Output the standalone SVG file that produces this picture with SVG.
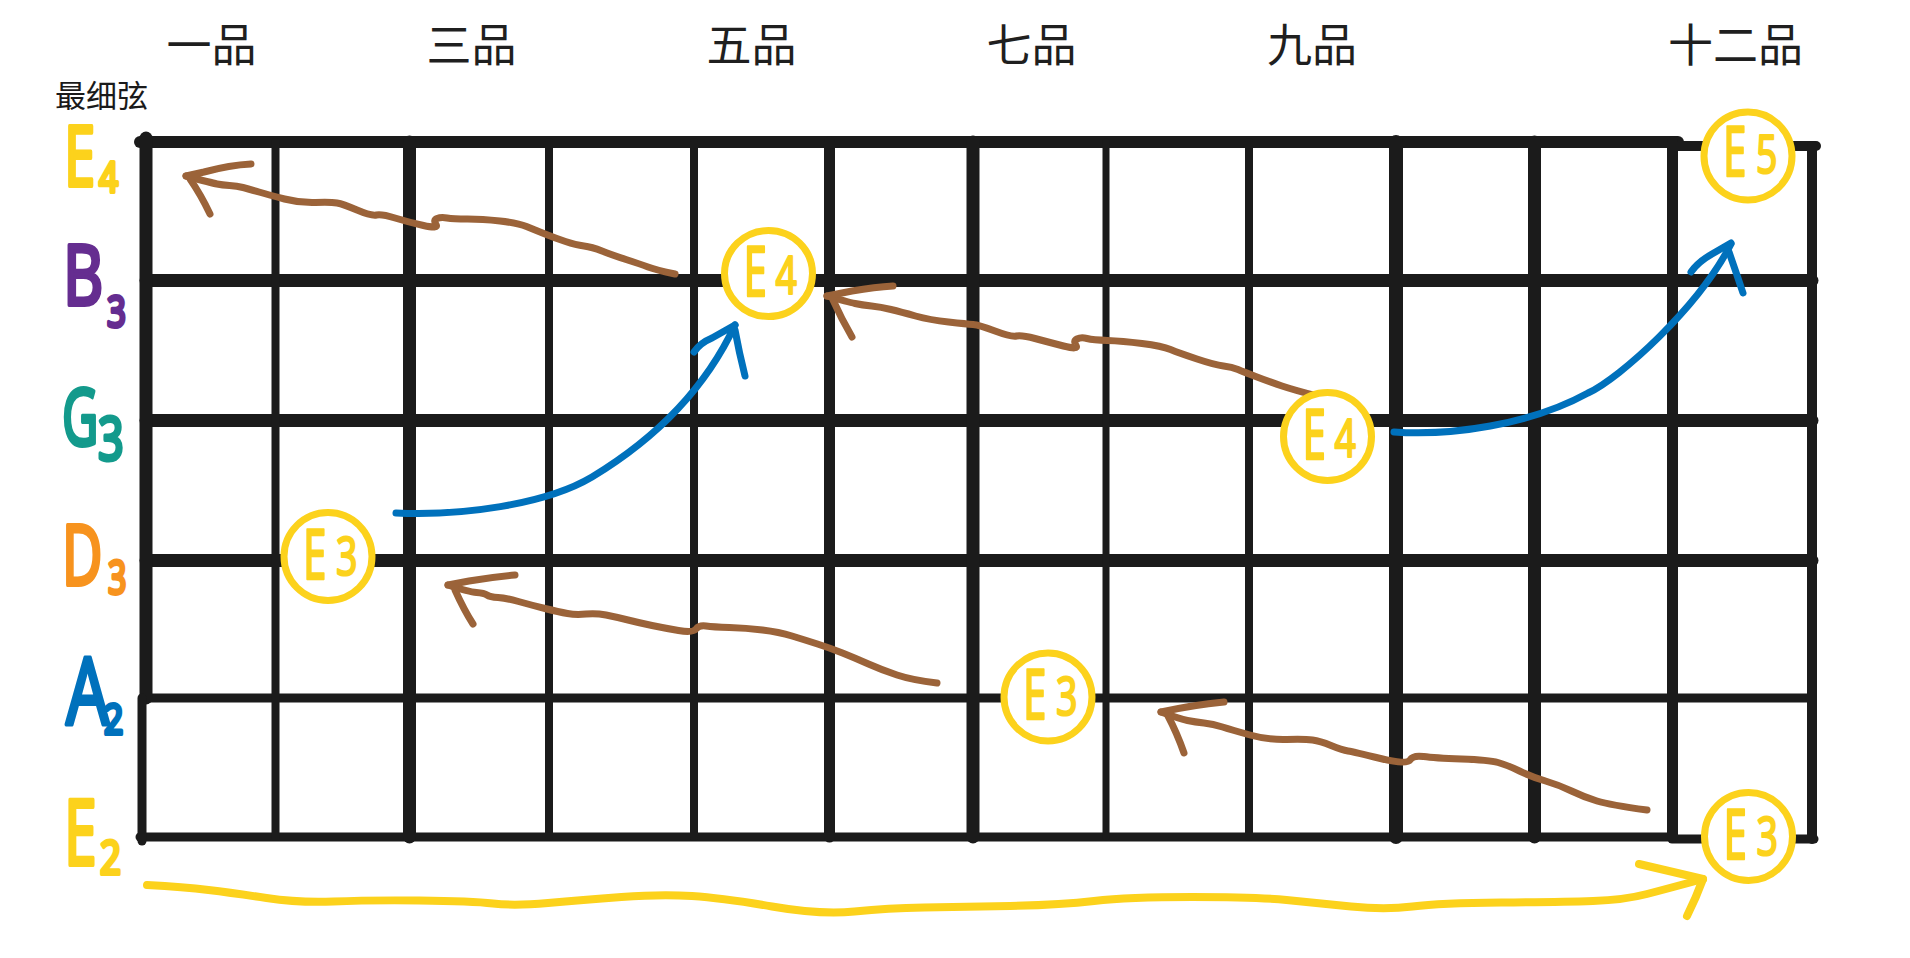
<svg xmlns="http://www.w3.org/2000/svg" width="1910" height="958" viewBox="0 0 1910 958">
<style>
.bg{fill:#ffffff}
.gl{stroke:#1b1b1b;stroke-linecap:round;fill:none}
.fret{font-family:"Noto Sans CJK SC","Noto Sans",sans-serif;font-size:45px;fill:#1f1f1f;text-anchor:middle}
.note{font-family:"Noto Sans CJK SC","Noto Sans",sans-serif;font-size:31px;fill:#1a1a1a}
.lab{font-family:"Noto Sans","Liberation Sans",sans-serif;stroke-width:4;stroke-linejoin:round}
.ring{fill:#ffffff;stroke:#fcd21c;stroke-width:7}
.ce{font-family:"Noto Sans","Liberation Sans",sans-serif;font-size:70px;fill:#fcd21c;stroke:#fcd21c;stroke-width:2.4;stroke-linejoin:round}
.cd{font-family:"Noto Sans","Liberation Sans",sans-serif;font-size:52px;fill:#fcd21c;stroke:#fcd21c;stroke-width:2.2;stroke-linejoin:round}
.brown{stroke:#9b6339;stroke-width:7;fill:none;stroke-linecap:round;stroke-linejoin:round}
.blue{stroke:#0071bc;stroke-width:7;fill:none;stroke-linecap:round;stroke-linejoin:round}
.yel{stroke:#fcd21c;stroke-width:8;fill:none;stroke-linecap:round;stroke-linejoin:round}
</style>
<rect class="bg" x="0" y="0" width="1910" height="958"/>

<g id="fret-labels">
<text class="fret" x="211.5" y="62">一品</text>
<text class="fret" x="471.5" y="62">三品</text>
<text class="fret" x="751.5" y="62">五品</text>
<text class="fret" x="1031.5" y="62">七品</text>
<text class="fret" x="1312" y="62">九品</text>
<text class="fret" x="1735.5" y="62">十二品</text>
</g>
<g id="thinnest-label"><text class="note" x="55" y="107">最细弦</text></g>

<g id="grid">
<line class="gl" x1="140" y1="142" x2="1678" y2="142" stroke-width="12"/>
<line class="gl" x1="1672" y1="146" x2="1816" y2="146" stroke-width="10"/>
<line class="gl" x1="146" y1="280.5" x2="1812" y2="280.5" stroke-width="13"/>
<line class="gl" x1="146" y1="420.5" x2="1812" y2="420.5" stroke-width="13"/>
<line class="gl" x1="146" y1="560.5" x2="1812" y2="560.5" stroke-width="13"/>
<line class="gl" x1="146" y1="698" x2="1812" y2="698" stroke-width="9"/>
<line class="gl" x1="140" y1="837" x2="1672" y2="837" stroke-width="9"/>
<line class="gl" x1="1672" y1="839" x2="1814" y2="839" stroke-width="9"/>
<line class="gl" x1="146" y1="138" x2="146" y2="698" stroke-width="13"/>
<line class="gl" x1="142" y1="698" x2="142" y2="841" stroke-width="9"/>
<line class="gl" x1="275.5" y1="142" x2="275.5" y2="837" stroke-width="8"/>
<line class="gl" x1="409.5" y1="142" x2="409.5" y2="837" stroke-width="13"/>
<line class="gl" x1="549" y1="142" x2="549" y2="837" stroke-width="8"/>
<line class="gl" x1="694" y1="142" x2="694" y2="837" stroke-width="8"/>
<line class="gl" x1="829.5" y1="142" x2="829.5" y2="837" stroke-width="11"/>
<line class="gl" x1="973" y1="142" x2="973" y2="837" stroke-width="13"/>
<line class="gl" x1="1106" y1="142" x2="1106" y2="837" stroke-width="7"/>
<line class="gl" x1="1249" y1="142" x2="1249" y2="837" stroke-width="8"/>
<line class="gl" x1="1396" y1="142" x2="1396" y2="837" stroke-width="14"/>
<line class="gl" x1="1534.5" y1="142" x2="1534.5" y2="837" stroke-width="13"/>
<line class="gl" x1="1672.5" y1="142" x2="1672.5" y2="837" stroke-width="11"/>
<line class="gl" x1="1812" y1="146" x2="1812" y2="839" stroke-width="10"/>
</g>

<g id="string-labels">
<g id="lab-E4" fill="#fcd21c" stroke="#fcd21c"><text class="lab" font-size="84" transform="translate(64 186) scale(0.67 1)">E</text><text class="lab" font-size="42" stroke-width="3" transform="translate(99 192) scale(0.8 1)">4</text></g>
<g id="lab-B3" fill="#652d90" stroke="#652d90"><text class="lab" font-size="84" transform="translate(63 305) scale(0.74 1)">B</text><text class="lab" font-size="44" stroke-width="3" transform="translate(107 327) scale(0.75 1)">3</text></g>
<g id="lab-G3" fill="#139a8c" stroke="#139a8c"><text class="lab" font-size="78" transform="translate(62 445) scale(0.64 1)">G</text><text class="lab" font-size="60" stroke-width="3.5" transform="translate(98 460) scale(0.75 1)">3</text></g>
<g id="lab-D3" fill="#f7931e" stroke="#f7931e"><text class="lab" font-size="84" transform="translate(62 585) scale(0.66 1)">D</text><text class="lab" font-size="46" stroke-width="3" transform="translate(108 594) scale(0.7 1)">3</text></g>
<g id="lab-A2" fill="#0071bc" stroke="#0071bc"><text class="lab" font-size="94" transform="translate(66 725) scale(0.72 1)">A</text><text class="lab" font-size="42" stroke-width="3" transform="translate(104 734) scale(0.8 1)">2</text></g>
<g id="lab-E2" fill="#fcd21c" stroke="#fcd21c"><text class="lab" font-size="92" transform="translate(64 865) scale(0.64 1)">E</text><text class="lab" font-size="46" stroke-width="3" transform="translate(100 874) scale(0.8 1)">2</text></g>
</g>

<g id="connectors">
<path class="brown" d="M186,176 Q212,183 217,184 Q222,185 229.5,185.5 Q237,186 243,187.5 Q249,189 259,192 Q269,195 284.5,199 Q300,203 315.5,202.5 Q331,202 337,203 Q343,204 357,210 Q371,216 376.5,215 Q382,214 395,218 Q408,222 423.5,225.5 Q439,229 436,224.5 Q433,220 437,218.5 Q441,217 447,218 Q453,219 467.5,219 Q482,219 500,221 Q518,223 526.5,226.5 Q535,230 545,234 Q555,238 565.5,241.5 Q576,245 584,246 Q592,247 602,251 Q612,255 626,259.5 Q640,264 648,267 Q656,270 675,274"/>
<path class="brown" d="M251,164 Q230,165 204,172 L186,176 M190,179 Q201,195 210,214"/>
<path class="brown" d="M827,296 Q848,302 855,303.5 Q862,305 871.5,306 Q881,307 891,309.5 Q901,312 915.5,316 Q930,320 948.5,322 Q967,324 973,324.5 Q979,325 995,331 Q1011,337 1016.5,336 Q1022,335 1035,338.5 Q1048,342 1063.5,346 Q1079,350 1076,345.5 Q1073,341 1077,339 Q1081,337 1087,338.5 Q1093,340 1107.5,340.5 Q1122,341 1142,343.5 Q1162,346 1170.5,349.5 Q1179,353 1197,359 Q1215,365 1223.5,366 Q1232,367 1238,369.5 Q1244,372 1257,377 Q1270,382 1282,386 Q1294,390 1317,396"/>
<path class="brown" d="M893,286 Q875,287 852,291 L827,296 M833,300 Q841,318 852,337"/>
<path class="brown" d="M448,585 Q469,592 476.5,592.5 Q484,593 487,595 Q490,597 498,597.5 Q506,598 518.5,601.5 Q531,605 545,608.5 Q559,612 567.5,613.5 Q576,615 586,614 Q596,613 606,615 Q616,617 628,620 Q640,623 652,625.5 Q664,628 678.5,630.5 Q693,633 696,629 Q699,625 706,626 Q713,627 729.5,627.5 Q746,628 762.5,630 Q779,632 792,636 Q805,640 817.5,644 Q830,648 842.5,653 Q855,658 868.5,664 Q882,670 897,675 Q912,680 937,683"/>
<path class="brown" d="M515,575 Q492,577 469,581 L448,585 M455,590 Q464,610 473,624"/>
<path class="brown" d="M1161,712 Q1180,719 1187.5,720.5 Q1195,722 1204,723 Q1213,724 1222.5,727 Q1232,730 1250,735 Q1268,740 1286.5,739.5 Q1305,739 1312.5,740 Q1320,741 1331,745.5 Q1342,750 1348,751 Q1354,752 1380.5,758.5 Q1407,765 1410,760 Q1413,755 1423.5,756.5 Q1434,758 1461.5,759 Q1489,760 1498,762.5 Q1507,765 1519.5,771 Q1532,777 1545.5,781 Q1559,785 1571.5,791 Q1584,797 1597,801 Q1610,805 1647,810"/>
<path class="brown" d="M1224,702 Q1193,705 1161,712 M1168,716 Q1177,733 1184,753"/>
<path class="blue" d="M396,513 C460,516 545,505 592,477 C640,448 700,400 735,325"/>
<path class="blue" d="M694,352 Q700,343 712,338 L735,325 M735,330 Q739,352 745,376"/>
<path class="blue" d="M1394,432 C1450,436 1530,425 1588,393 C1620,378 1698,308 1731,244"/>
<path class="blue" d="M1691,272 Q1698,262 1712,254 L1731,243 M1729,252 Q1737,275 1743,293"/>
<path class="yel" d="M147,885 Q184,887 208.5,890 Q233,893 266.5,898 Q300,903 333.5,901.5 Q367,900 419.5,900.5 Q472,901 493,903.5 Q514,906 548,903 Q582,900 621.5,897 Q661,894 692,896 Q723,898 772,906.5 Q821,915 854.5,911.5 Q888,908 924,907.5 Q960,907 1010,906 Q1060,905 1094,901 Q1128,897 1192,897 Q1256,897 1286.5,900 Q1317,903 1351,906.5 Q1385,910 1412.5,906.5 Q1440,903 1501,902.5 Q1562,902 1593,901 Q1624,900 1647,894 Q1670,888 1703,879"/>
<path class="yel" d="M1639,864 Q1673,872 1703,879 Q1696,898 1687,916"/>
</g>

<g id="node-E4-fret5" transform="translate(768.5 273.5)"><ellipse class="ring" rx="44" ry="43"/><text class="ce" transform="translate(-25 22) scale(0.6 1)">E</text><text class="cd" transform="translate(7 20) scale(0.72 1)">4</text></g>
<g id="node-E3-fret2" transform="translate(328 556.5)"><ellipse class="ring" rx="44" ry="44"/><text class="ce" transform="translate(-25 22) scale(0.6 1)">E</text><text class="cd" transform="translate(8 18) scale(0.72 1)">3</text></g>
<g id="node-E4-fret9" transform="translate(1327.5 436.5)"><ellipse class="ring" rx="44" ry="44"/><text class="ce" transform="translate(-25 22) scale(0.6 1)">E</text><text class="cd" transform="translate(7 20) scale(0.72 1)">4</text></g>
<g id="node-E5-fret12" transform="translate(1748 156)"><ellipse class="ring" rx="44" ry="44"/><text class="ce" transform="translate(-25 20) scale(0.6 1)">E</text><text class="cd" transform="translate(8 17) scale(0.72 1)">5</text></g>
<g id="node-E3-fret7" transform="translate(1048 697)"><ellipse class="ring" rx="44" ry="44"/><text class="ce" transform="translate(-25 22) scale(0.6 1)">E</text><text class="cd" transform="translate(8 18) scale(0.72 1)">3</text></g>
<g id="node-E3-fret12" transform="translate(1748.5 836.5)"><ellipse class="ring" rx="44" ry="44"/><text class="ce" transform="translate(-25 22) scale(0.6 1)">E</text><text class="cd" transform="translate(8 18) scale(0.72 1)">3</text></g>
</svg>
